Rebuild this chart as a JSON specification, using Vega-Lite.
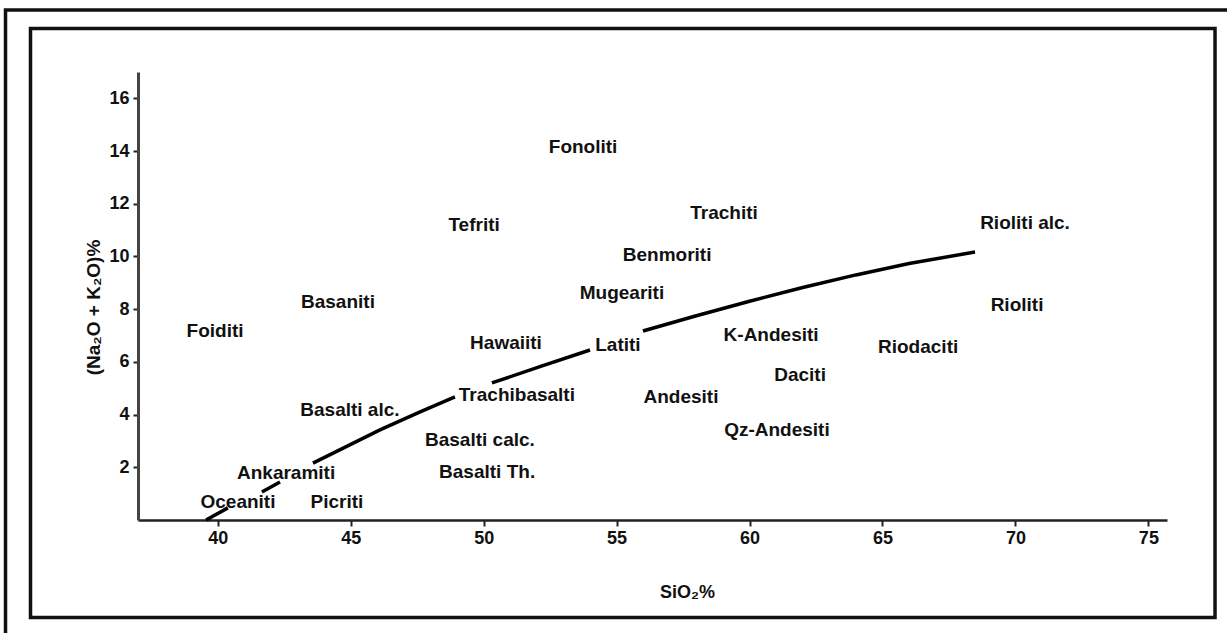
{
  "$schema": "https://vega.github.io/schema/vega-lite/v6.json",
  "width": 1029,
  "height": 448,
  "autosize": {"type": "none"},
  "padding": {"left": 138, "top": 72, "right": 60, "bottom": 113},
  "background": "white",
  "config": {"view": {"stroke": null}, "font": "Liberation Sans, DejaVu Sans"},
  "datasets": {
    "frames": [
      {"x": 32.957, "x2": 77.506, "y": -3.70, "y2": 18.651},
      {"x": 32.017, "x2": 78.9, "y": -5.2, "y2": 19.353}
    ],
    "curve": [
      {"seg": 1, "x": 39.56, "y": 0.0},
      {"seg": 1, "x": 40.38, "y": 0.46},
      {"seg": 2, "x": 41.66, "y": 1.06},
      {"seg": 2, "x": 42.34, "y": 1.44},
      {"seg": 3, "x": 43.58, "y": 2.16},
      {"seg": 3, "x": 46.10, "y": 3.42},
      {"seg": 3, "x": 47.61, "y": 4.10},
      {"seg": 3, "x": 48.92, "y": 4.67},
      {"seg": 4, "x": 50.31, "y": 5.20},
      {"seg": 4, "x": 52.2, "y": 5.85},
      {"seg": 4, "x": 54.00, "y": 6.45},
      {"seg": 5, "x": 55.99, "y": 7.17},
      {"seg": 5, "x": 58.0, "y": 7.75},
      {"seg": 5, "x": 60.0, "y": 8.30},
      {"seg": 5, "x": 62.0, "y": 8.82},
      {"seg": 5, "x": 64.0, "y": 9.30},
      {"seg": 5, "x": 66.0, "y": 9.73},
      {"seg": 5, "x": 68.48, "y": 10.17}
    ],
    "labels": [
      {"label": "Fonoliti", "x": 53.74, "y": 14.15},
      {"label": "Trachiti", "x": 59.04, "y": 11.65},
      {"label": "Tefriti", "x": 49.64, "y": 11.19},
      {"label": "Rioliti  alc.", "x": 70.36, "y": 11.27},
      {"label": "Benmoriti", "x": 56.90, "y": 10.06},
      {"label": "Mugeariti", "x": 55.20, "y": 8.61},
      {"label": "Basaniti", "x": 44.52, "y": 8.27},
      {"label": "Rioliti", "x": 70.06, "y": 8.16},
      {"label": "Foiditi", "x": 39.90, "y": 7.17},
      {"label": "Hawaiiti", "x": 50.84, "y": 6.72},
      {"label": "Latiti", "x": 55.05, "y": 6.64},
      {"label": "K-Andesiti", "x": 60.81, "y": 7.02},
      {"label": "Riodaciti", "x": 66.34, "y": 6.56},
      {"label": "Daciti", "x": 61.90, "y": 5.50},
      {"label": "Trachibasalti", "x": 51.25, "y": 4.74},
      {"label": "Basalti  alc.", "x": 44.97, "y": 4.17},
      {"label": "Andesiti", "x": 57.42, "y": 4.67},
      {"label": "Qz-Andesiti", "x": 61.03, "y": 3.42},
      {"label": "Basalti  calc.", "x": 49.86, "y": 3.04},
      {"label": "Ankaramiti", "x": 42.57, "y": 1.78},
      {"label": "Basalti  Th.", "x": 50.13, "y": 1.82},
      {"label": "Oceaniti", "x": 40.76, "y": 0.68},
      {"label": "Picriti", "x": 44.48, "y": 0.68}
    ]
  },
  "encoding": {
    "x": {
      "field": "x",
      "type": "quantitative",
      "scale": {"domain": [37, 75.7], "nice": false, "zero": false},
      "axis": {
        "values": [40, 45, 50, 55, 60, 65, 70, 75],
        "title": "SiO₂%",
        "grid": false,
        "domainColor": "#222",
        "domainWidth": 2.5,
        "tickColor": "#222",
        "tickWidth": 2,
        "tickSize": 6,
        "labelFontSize": 18,
        "labelFontWeight": "bold",
        "labelColor": "#111",
        "labelPadding": 3,
        "labelFlush": false,
        "titleFontSize": 18,
        "titleFontWeight": "bold",
        "titleColor": "#111",
        "titleX": 549,
        "titleY": 72,
        "titleAlign": "center",
        "titleBaseline": "middle"
      }
    },
    "y": {
      "field": "y",
      "type": "quantitative",
      "scale": {"domain": [0, 17], "nice": false, "zero": false},
      "axis": {
        "values": [2, 4, 6, 8, 10, 12, 14, 16],
        "title": "(Na₂O  +  K₂O)%",
        "grid": false,
        "domainColor": "#444",
        "domainWidth": 3,
        "tickColor": "#222",
        "tickWidth": 2,
        "tickSize": 5,
        "labelFontSize": 18,
        "labelFontWeight": "bold",
        "labelColor": "#111",
        "labelPadding": 4,
        "labelFlush": false,
        "titleFontSize": 19,
        "titleFontWeight": "bold",
        "titleColor": "#111",
        "titleAngle": -90,
        "titleX": -45,
        "titleY": 235,
        "titleAlign": "center",
        "titleBaseline": "middle"
      }
    }
  },
  "layer": [
    {
      "data": {"name": "frames"},
      "mark": {"type": "rect", "filled": false, "stroke": "#111", "strokeWidth": 3.5, "clip": false},
      "encoding": {"x2": {"field": "x2"}, "y2": {"field": "y2"}}
    },
    {
      "data": {"name": "curve"},
      "mark": {"type": "line", "stroke": "#000", "strokeWidth": 3.5, "clip": false},
      "encoding": {"detail": {"field": "seg", "type": "nominal"}}
    },
    {
      "data": {"name": "labels"},
      "mark": {"type": "text", "fontSize": 19, "fontWeight": "bold", "color": "#111", "align": "center", "baseline": "middle"},
      "encoding": {"text": {"field": "label", "type": "nominal"}}
    }
  ]
}
